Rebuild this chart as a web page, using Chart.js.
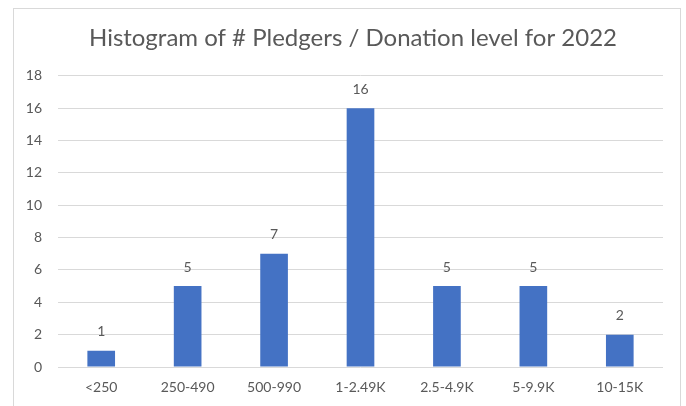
<!DOCTYPE html>
<html lang="en">
<head>
    <meta charset="UTF-8">
    <title>Histogram of # Pledgers</title>
    <script src="https://cdn.jsdelivr.net/npm/chart.js"></script>
    <style>
        body {
            margin: 0;
            padding: 0;
            background-color: #fff;
        }
        .container {
            position: relative;
            width: 686px;
            height: 406px;
        }
    </style>
</head>
<body>
    <div class="container">
        <canvas id="histChart" width="686" height="406"></canvas>
    </div>

    <script>
        // donation level buckets and number of pledgers in each
        const levels = ['<250', '250-490', '500-990', '1-2.49K', '2.5-4.9K', '5-9.9K', '10-15K'];
        const pledgers = [1, 5, 7, 16, 5, 5, 2];
        const yTicks = [0, 2, 4, 6, 8, 10, 12, 14, 16, 18];

        const textColor = '#595959';
        const fontFamily = 'Lato, "Open Sans", sans-serif';

        // light grey frame like the spreadsheet chart box
        const framePlugin = {
            id: 'frame',
            beforeDraw(chart) {
                const ctx = chart.ctx;
                ctx.save();
                ctx.strokeStyle = '#d9d9d9';
                ctx.lineWidth = 1;
                ctx.strokeRect(13.5, 8.5, 667, 410);
                ctx.restore();
            }
        };

        // value labels above each bar
        const valueLabels = {
            id: 'valueLabels',
            afterDatasetsDraw(chart) {
                const ctx = chart.ctx;
                const meta = chart.getDatasetMeta(0);
                ctx.save();
                ctx.fillStyle = textColor;
                ctx.font = '14px ' + fontFamily;
                ctx.textAlign = 'center';
                ctx.textBaseline = 'middle';
                meta.data.forEach((bar, i) => {
                    ctx.fillText(chart.data.datasets[0].data[i], bar.x, bar.y - 19);
                });
                ctx.restore();
            }
        };

        new Chart(document.getElementById('histChart').getContext('2d'), {
            type: 'bar',
            data: {
                labels: levels,
                datasets: [{
                    data: pledgers,
                    backgroundColor: '#4472c4',
                    categoryPercentage: 1,
                    barPercentage: 0.32
                }]
            },
            options: {
                responsive: false,
                animation: false,
                layout: {
                    padding: { left: 21, right: 1, top: 0, bottom: 0 }
                },
                plugins: {
                    legend: { display: false },
                    tooltip: { enabled: false },
                    title: {
                        display: true,
                        text: 'Histogram of # Pledgers / Donation level for 2022',
                        color: textColor,
                        font: { family: fontFamily, size: 24, weight: 'normal' },
                        padding: { top: 24, bottom: 23 }
                    }
                },
                scales: {
                    x: {
                        grid: { display: false, drawTicks: false },
                        border: { display: false },
                        ticks: {
                            color: textColor,
                            font: { family: fontFamily, size: 14 },
                            padding: 12,
                            maxRotation: 0,
                            autoSkip: false
                        },
                        afterFit(axis) { axis.height = 39; }
                    },
                    y: {
                        min: 0,
                        max: 18,
                        afterBuildTicks(axis) {
                            axis.ticks = yTicks.map(v => ({ value: v }));
                        },
                        grid: { color: '#d9d9d9', drawTicks: false },
                        border: { display: false },
                        ticks: {
                            color: textColor,
                            font: { family: fontFamily, size: 14 },
                            padding: 16
                        },
                        afterFit(axis) { axis.width = 37; }
                    },
                    // empty right-hand margin so the title sits where Excel put it
                    yRight: {
                        position: 'right',
                        min: 0,
                        max: 18,
                        grid: { display: false, drawTicks: false },
                        border: { display: false },
                        ticks: { display: false },
                        afterFit(axis) { axis.width = 22; }
                    }
                }
            },
            plugins: [framePlugin, valueLabels]
        });
    </script>
</body>
</html>
